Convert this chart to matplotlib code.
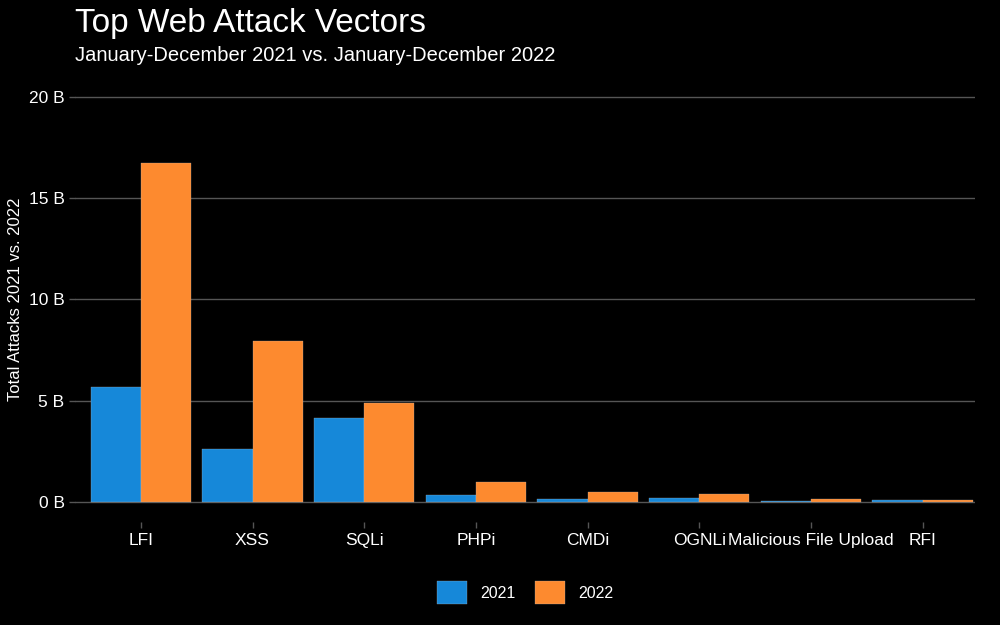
import numpy as np
import matplotlib.pyplot as plt

# attack vectors, totals in billions
vectors = ["LFI", "XSS", "SQLi", "PHPi", "CMDi", "OGNLi", "Malicious File Upload", "RFI"]
attacks_2021 = [5.68, 2.62, 4.15, 0.35, 0.13, 0.20, 0.03, 0.08]
attacks_2022 = [16.74, 7.95, 4.89, 0.95, 0.48, 0.38, 0.13, 0.07]
years = ["2021", "2022"]
colors = ["#1688d9", "#fd8a2f"]

plt.rcParams['font.family'] = ['Liberation Sans', 'DejaVu Sans']

fig = plt.figure(figsize=(10, 6.25), dpi=100, facecolor='black')
ax = fig.add_axes([0.075, 0.165, 0.9, 0.712])
ax.set_facecolor('black')

x = np.arange(len(vectors))
w = 0.45
ax.bar(x - w/2, attacks_2021, w, color=colors[0], edgecolor='#bbbbbb', linewidth=0.2, label=years[0], zorder=3)
ax.bar(x + w/2, attacks_2022, w, color=colors[1], edgecolor='#bbbbbb', linewidth=0.2, label=years[1], zorder=3)

ax.set_xlim(-0.59, len(vectors) - 0.53)
ax.set_ylim(-1, 21)
ax.set_yticks([0, 5, 10, 15, 20])
ax.set_yticklabels([f"{v} B" for v in [0, 5, 10, 15, 20]])
ax.set_xticks(x)
ax.set_xticklabels(vectors)
ax.grid(axis='y', color='#555555', linewidth=1, zorder=0)
for s in ax.spines.values():
    s.set_visible(False)
ax.tick_params(axis='y', colors='#555555', labelcolor='white', labelsize=12.5, length=4, width=1)
ax.tick_params(axis='x', colors='#555555', labelcolor='white', labelsize=12.5, length=4, width=1, pad=4)
ax.set_ylabel("Total Attacks 2021 vs. 2022", color='white', fontsize=12, labelpad=4)

fig.text(0.075, 0.963, "Top Web Attack Vectors", color='white', fontsize=24, va='center')
fig.text(0.075, 0.911, "January-December 2021 vs. January-December 2022", color='white', fontsize=14.5, va='center')

leg = ax.legend(loc='upper center', bbox_to_anchor=(0.5, -0.1), ncol=2, frameon=False,
                fontsize=11.5, labelcolor='white', handlelength=1.9, handleheight=1.9,
                handletextpad=0.8, columnspacing=1.2)

fig.savefig("out.png", dpi=100, facecolor='black')
